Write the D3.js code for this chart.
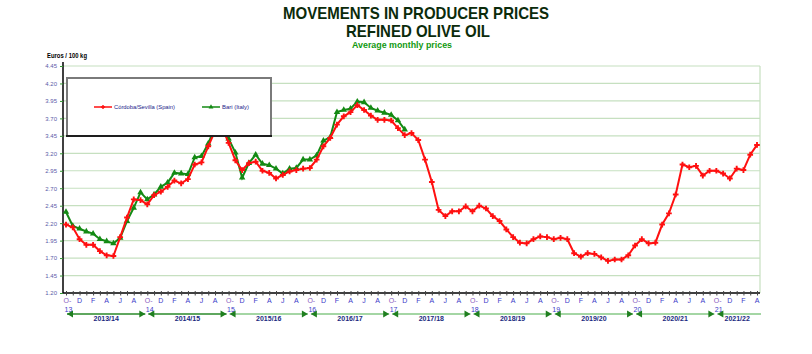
<!DOCTYPE html>
<html>
<head>
<meta charset="utf-8">
<script src="https://cdn.jsdelivr.net/npm/d3@7"></script>
<style>
body{margin:0;background:#fff;}
svg{display:block;font-family:"Liberation Sans",Arial,sans-serif;}
</style>
</head>
<body>
<svg></svg>
<script>
// seasons and month letters (campaign starts in October)
var seasons=["2013/14","2014/15","2015/16","2016/17","2017/18","2018/19","2019/20","2020/21","2021/22"];
var seasonYears=["13","14","15","16","17","18","19","20","21"];
var monthLetters=["O","N","D","J","F","M","A","M","J","J","A","S"];
var yTicks=[1.20,1.45,1.70,1.95,2.20,2.45,2.70,2.95,3.20,3.45,3.70,3.95,4.20,4.45];

// Córdoba/Sevilla (Spain), Oct 2013 -> Apr 2022
var cordoba=[2.18,2.14,1.97,1.89,1.89,1.80,1.74,1.73,2.00,2.28,2.54,2.53,
             2.47,2.60,2.65,2.72,2.81,2.77,2.83,3.04,3.07,3.30,3.52,3.58,
             3.35,3.10,2.96,3.06,3.08,2.95,2.92,2.84,2.89,2.94,2.96,2.98,
             2.99,3.11,3.30,3.42,3.61,3.73,3.79,3.89,3.82,3.74,3.68,3.68,
             3.67,3.56,3.46,3.49,3.39,3.11,2.79,2.39,2.30,2.37,2.37,2.44,
             2.37,2.45,2.41,2.30,2.23,2.11,2.00,1.92,1.91,1.97,2.01,2.00,
             1.97,1.99,1.97,1.77,1.72,1.77,1.76,1.71,1.66,1.68,1.68,1.74,
             1.88,1.97,1.91,1.92,2.18,2.34,2.61,3.04,3.00,3.02,2.88,2.95,
             2.95,2.91,2.84,2.98,2.96,3.18,3.32];
// Bari (Italy), Oct 2013 -> Dec 2017
var bari=[2.36,2.16,2.12,2.08,2.05,1.97,1.94,1.91,1.99,2.23,2.42,2.64,
          2.54,2.61,2.72,2.78,2.92,2.91,2.90,3.14,3.16,3.34,3.58,3.63,
          3.41,3.21,2.85,3.06,3.18,3.05,3.03,2.98,2.91,2.98,2.99,3.11,
          3.11,3.17,3.38,3.43,3.79,3.82,3.84,3.94,3.93,3.85,3.81,3.78,
          3.75,3.67,3.54];

var months=d3.range(cordoba.length);

var svg=d3.select("svg")
          .attr("width",812)
          .attr("height",354);

var xScale=d3.scalePoint()
             .domain(months)
             .range([66,757]);
var yScale=d3.scaleLinear()
             .domain([1.20,4.45])
             .range([293,66]);

// titles
svg.append("text").attr("x",416).attr("y",19).attr("text-anchor","middle")
   .attr("font-size",17).attr("font-weight","bold").attr("fill","#0b2b0b")
   .attr("textLength",266).attr("lengthAdjust","spacingAndGlyphs")
   .text("MOVEMENTS IN PRODUCER PRICES");
svg.append("text").attr("x",418).attr("y",37).attr("text-anchor","middle")
   .attr("font-size",17).attr("font-weight","bold").attr("fill","#0b2b0b")
   .attr("textLength",144).attr("lengthAdjust","spacingAndGlyphs")
   .text("REFINED OLIVE OIL");
svg.append("text").attr("x",402).attr("y",48).attr("text-anchor","middle")
   .attr("font-size",9).attr("font-weight","bold").attr("fill","#119911")
   .attr("textLength",100).attr("lengthAdjust","spacingAndGlyphs")
   .text("Average monthly prices");
svg.append("text").attr("x",47).attr("y",58)
   .attr("font-size",7).attr("font-weight","bold").attr("fill","#000")
   .attr("textLength",40).attr("lengthAdjust","spacingAndGlyphs")
   .text("Euros / 100 kg");

// gridlines
svg.append("g").selectAll("line")
   .data(yTicks.slice(1))
   .enter()
   .append("line")
   .attr("x1",63).attr("x2",760)
   .attr("y1",function(d){return yScale(d)})
   .attr("y2",function(d){return yScale(d)})
   .attr("stroke","#c6e0c0").attr("stroke-width",1.2);
svg.append("line").attr("x1",760).attr("x2",760).attr("y1",66).attr("y2",293)
   .attr("stroke","#c6e0c0").attr("stroke-width",1.2);

// y axis
var yAxis=svg.append("g")
             .attr("transform","translate(63,0)")
             .call(d3.axisLeft(yScale).tickValues(yTicks).tickFormat(d3.format(".2f")).tickSize(3).tickPadding(3));
yAxis.select(".domain").attr("stroke","#000").attr("stroke-width",1.5).attr("d","M0,62V293");
yAxis.selectAll(".tick line").attr("stroke","#339933");
yAxis.selectAll(".tick text").attr("font-size",6).attr("fill","#5b5ba8").attr("font-family","Liberation Sans,Arial,sans-serif");

// x axis
var xAxis=svg.append("g")
             .attr("transform","translate(0,293)")
             .call(d3.axisBottom(xScale).tickValues(months).tickSize(0).tickFormat(""));
xAxis.select(".domain").attr("stroke","#000").attr("stroke-width",1.5).attr("d","M63,0H760");
xAxis.selectAll(".tick").append("line").attr("y1",-2).attr("y2",2.5).attr("stroke","#444");

var labelled=months.filter(function(d){return d%2==0});
svg.append("g").selectAll("text")
   .data(labelled)
   .enter()
   .append("text")
   .attr("x",function(d){return d%12==0 ? xScale(d)-2.5 : xScale(d)})
   .attr("y",303)
   .attr("text-anchor",function(d){return d%12==0 ? "start" : "middle"})
   .attr("font-size",7)
   .attr("fill",function(d){return d%12==0 ? "#8a5cc0" : "#3a3ac8"})
   .text(function(d){return d%12==0 ? monthLetters[0]+"-" : monthLetters[d%12]});
svg.append("g").selectAll("text")
   .data(seasonYears)
   .enter()
   .append("text")
   .attr("x",function(d,i){return xScale(i*12)-1.5})
   .attr("y",312)
   .attr("font-size",7)
   .attr("fill","#3a3ac8")
   .text(function(d){return d});

// season arrows
var seasonG=svg.append("g");
seasons.forEach(function(s,i){
  var x0=xScale(i*12)+1;
  var x1=i*12+12<months.length ? xScale(i*12+12)-2 : 761;
  seasonG.append("line").attr("x1",x0).attr("x2",x1).attr("y1",314).attr("y2",314)
     .attr("stroke",i<2 ? "#2a8a2a" : "#86c886").attr("stroke-width",1.5);
  seasonG.append("path").attr("d","M"+x0+",314l6,-3.5v7z").attr("fill","#1f7f1f");
  if(i*12+12<months.length)
    seasonG.append("path").attr("d","M"+x1+",314l-6,-3.5v7z").attr("fill","#1f7f1f");
  seasonG.append("text").attr("x",(x0+Math.min(x1,757))/2).attr("y",321)
     .attr("text-anchor","middle").attr("font-size",7).attr("font-weight","bold")
     .attr("fill","#1a2a80").text(s);
});

// series
var line=d3.line()
           .x(function(d,i){return xScale(i)})
           .y(function(d){return yScale(d)});

var drawSeries=function(data,color,symbol)
{
  var g=svg.append("g");
  g.append("path").datum(data).attr("d",line)
   .attr("fill","none").attr("stroke",color).attr("stroke-width",2);
  g.selectAll("path.pt")
   .data(data)
   .enter()
   .append("path")
   .attr("class","pt")
   .attr("transform",function(d,i){return "translate("+xScale(i)+","+yScale(d)+")"})
   .attr("d",d3.symbol().type(symbol).size(18))
   .attr("fill",color);
}
drawSeries(bari,"#138a13",d3.symbolTriangle);
drawSeries(cordoba,"#ff1010",d3.symbolCross);

// legend
var legend=svg.append("g");
legend.append("rect").attr("x",67).attr("y",78).attr("width",204).attr("height",58)
      .attr("fill","#fff").attr("stroke","#7a7a7a").attr("stroke-width",2);
legend.append("line").attr("x1",66).attr("x2",272).attr("y1",136).attr("y2",136)
      .attr("stroke","#000").attr("stroke-width",1.5);
var legendItems=[{name:"Córdoba/Sevilla (Spain)",color:"#ff1010",symbol:d3.symbolCross,x:94,w:61},
                 {name:"Bari (Italy)",color:"#138a13",symbol:d3.symbolTriangle,x:202,w:27}];
legendItems.forEach(function(d){
  legend.append("line").attr("x1",d.x).attr("x2",d.x+18).attr("y1",107).attr("y2",107)
        .attr("stroke",d.color).attr("stroke-width",1.5);
  legend.append("path").attr("transform","translate("+(d.x+9)+",107)")
        .attr("d",d3.symbol().type(d.symbol).size(10)).attr("fill",d.color);
  legend.append("text").attr("x",d.x+20).attr("y",109).attr("font-size",6)
        .attr("fill","#1a1a8a").attr("textLength",d.w).attr("lengthAdjust","spacingAndGlyphs")
        .text(d.name);
});
</script>
</body>
</html>
